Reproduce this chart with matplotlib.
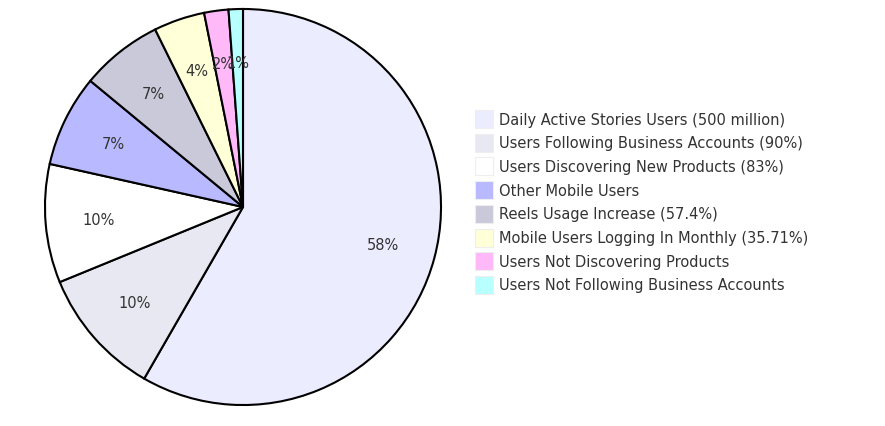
import matplotlib
matplotlib.use("Agg")
import matplotlib.pyplot as plt
import numpy as np

labels = [
    "Daily Active Stories Users (500 million)",
    "Users Following Business Accounts (90%)",
    "Users Discovering New Products (83%)",
    "Other Mobile Users",
    "Reels Usage Increase (57.4%)",
    "Mobile Users Logging In Monthly (35.71%)",
    "Users Not Discovering Products",
    "Users Not Following Business Accounts",
]
values = [500, 90, 83, 64.29, 57.4, 35.71, 17, 10]
colors = ["#ECECFF", "#E8E8F2", "#FFFFFF", "#B9B9FF", "#C9C9DA",
          "#FFFFD8", "#FFB8F8", "#B8FFFF"]

fig = plt.figure(figsize=(8.85, 4.27), dpi=100)
ax = fig.add_axes([43 / 885, 1 - 408 / 427, 400 / 885, 400 / 427])
wedges, texts = ax.pie(values, colors=colors, startangle=90, counterclock=False,
                       wedgeprops=dict(edgecolor="black", linewidth=1.5))
ax.set_xlim(-1.01, 1.01)
ax.set_ylim(-1.01, 1.01)
ax.set_aspect("equal")
total = sum(values)
ang = 90.0
for v in values:
    a = ang - 360 * v / total / 2
    ang -= 360 * v / total
    r = 0.73
    ax.text(r * np.cos(np.radians(a)), r * np.sin(np.radians(a)),
            f"{round(100 * v / total):.0f}%", ha="center", va="center",
            fontsize=10.5, color="#333333")

y0 = 120
for i, (lab, c) in enumerate(zip(labels, colors)):
    y = y0 + i * 23.7
    fig.patches.append(plt.Rectangle((475 / 885, 1 - (y + 9) / 427), 18 / 885, 18 / 427,
                                     transform=fig.transFigure, facecolor=c,
                                     edgecolor="#eeeeee", linewidth=0.8))
    fig.text(499 / 885, 1 - y / 427, lab, va="center", ha="left",
             fontsize=10.5, color="#333333")

fig.savefig("out.png")
